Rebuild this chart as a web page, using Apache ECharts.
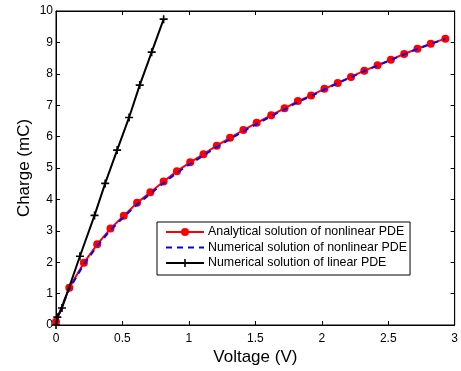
<!DOCTYPE html>
<html>
<head>
<meta charset="utf-8">
<script src="https://cdn.jsdelivr.net/npm/echarts@6/dist/echarts.min.js"></script>
<style>
  html, body { margin: 0; padding: 0; background: #fff; }
  #chart { width: 461px; height: 371px; }
</style>
</head>
<body>
<div id="chart"></div>
<script>
// values
const analyticalV = [0, 0.10, 0.21, 0.31, 0.41, 0.51, 0.61, 0.71, 0.81, 0.91, 1.01, 1.11, 1.21, 1.31, 1.41,
  1.51, 1.62, 1.72, 1.82, 1.92, 2.02, 2.12, 2.22, 2.32, 2.42, 2.52, 2.62, 2.72, 2.82, 2.93];
const analyticalQ = [0.10, 1.19, 1.98, 2.57, 3.07, 3.48, 3.89, 4.23, 4.57, 4.90, 5.18, 5.44, 5.71, 5.96, 6.21,
  6.44, 6.68, 6.90, 7.13, 7.31, 7.52, 7.71, 7.90, 8.10, 8.27, 8.45, 8.63, 8.80, 8.96, 9.12];
const numericV = [0, 0.05, 0.10, 0.21, 0.31, 0.41, 0.51, 0.61, 0.71, 0.81, 0.91, 1.01, 1.11, 1.21, 1.31, 1.41,
  1.51, 1.62, 1.72, 1.82, 1.92, 2.02, 2.12, 2.22, 2.32, 2.42, 2.52, 2.62, 2.72, 2.82, 2.93];
const numericQ = [0.05, 0.65, 1.15, 1.93, 2.52, 3.02, 3.44, 3.84, 4.18, 4.52, 4.85, 5.13, 5.40, 5.67, 5.92, 6.17,
  6.40, 6.65, 6.87, 7.10, 7.29, 7.50, 7.70, 7.89, 8.09, 8.26, 8.44, 8.62, 8.79, 8.95, 9.11];
const linearV = [0, 0.01, 0.045, 0.18, 0.29, 0.37, 0.46, 0.55, 0.63, 0.72, 0.81];
const linearQ = [0.0, 0.25, 0.54, 2.19, 3.49, 4.51, 5.57, 6.61, 7.64, 8.69, 9.74];

const names = [
  'Analytical solution of nonlinear PDE',
  'Numerical solution of nonlinear PDE',
  'Numerical solution of linear PDE'
];

const zip = (xs, ys) => xs.map((x, i) => [x, ys[i]]);
const font = 'Liberation Sans, Arial, Helvetica, sans-serif';
const plus = 'path://M4,0H6V4H10V6H6V10H4V6H0V4H4Z';

const myChart = echarts.init(document.querySelector('#chart'));

const axisCommon = {
  type: 'value',
  axisLine: { show: true, onZero: false, lineStyle: { color: '#000', width: 1 } },
  axisTick: { show: true, inside: true, length: 4, lineStyle: { color: '#000' } },
  splitLine: { show: false },
  nameMoveOverlap: false
};

const option = {
  backgroundColor: '#fff',
  animation: false,
  grid: { left: 56, right: 2, top: 11, bottom: 41, show: true, borderColor: '#000', borderWidth: 1 },
  legend: {
    orient: 'vertical',
    left: 157,
    top: 222,
    data: [
      names[0],
      { name: names[1], itemStyle: { color: 'rgba(0,0,0,0)', borderWidth: 0 } },
      names[2]
    ],
    backgroundColor: '#fff',
    borderColor: '#000',
    borderWidth: 1,
    padding: [4, 3, 6, 8],
    itemWidth: 38,
    itemHeight: 10,
    itemGap: 3.5,
    textStyle: { fontFamily: font, fontSize: 12.4, color: '#000', padding: [0, 0, 0, -1] }
  },
  xAxis: [
    Object.assign({}, axisCommon, {
      min: 0, max: 3, interval: 0.5,
      name: 'Voltage (V)',
      nameLocation: 'middle',
      nameGap: 24,
      nameTextStyle: { fontFamily: font, fontSize: 17, color: '#000' },
      axisLabel: { fontFamily: font, fontSize: 12, color: '#000', margin: 8 }
    }),
    Object.assign({}, axisCommon, {
      min: 0, max: 3, interval: 0.5, position: 'top',
      axisLabel: { show: false }
    })
  ],
  yAxis: [
    Object.assign({}, axisCommon, {
      min: 0, max: 10, interval: 1,
      name: 'Charge (mC)',
      nameLocation: 'middle',
      nameGap: 23,
      nameTextStyle: { fontFamily: font, fontSize: 17, color: '#000' },
      axisLabel: { fontFamily: font, fontSize: 12, color: '#000', margin: 3 }
    }),
    Object.assign({}, axisCommon, {
      min: 0, max: 10, interval: 1, position: 'right',
      axisLabel: { show: false }
    })
  ],
  series: [
    {
      name: names[0],
      type: 'line',
      data: zip(analyticalV, analyticalQ),
      symbol: 'circle',
      symbolSize: 8,
      showAllSymbol: true,
      itemStyle: { color: '#ff0000' },
      lineStyle: { color: '#ff0000', width: 2 },
      z: 2
    },
    {
      name: names[1],
      type: 'line',
      data: zip(numericV, numericQ),
      symbol: 'none',
      itemStyle: { color: '#0000ff' },
      lineStyle: { color: '#0000ff', width: 2, type: [6, 5] },
      z: 3
    },
    {
      name: names[2],
      type: 'line',
      data: zip(linearV, linearQ),
      symbol: plus,
      symbolSize: 8,
      showAllSymbol: true,
      itemStyle: { color: '#000' },
      lineStyle: { color: '#000', width: 2 },
      z: 4
    },
    {
      // empty series so the top and right axes are in use
      name: 'frame',
      type: 'line',
      xAxisIndex: 1,
      yAxisIndex: 1,
      data: [],
      symbol: 'none'
    }
  ]
};

myChart.setOption(option);
</script>
</body>
</html>
